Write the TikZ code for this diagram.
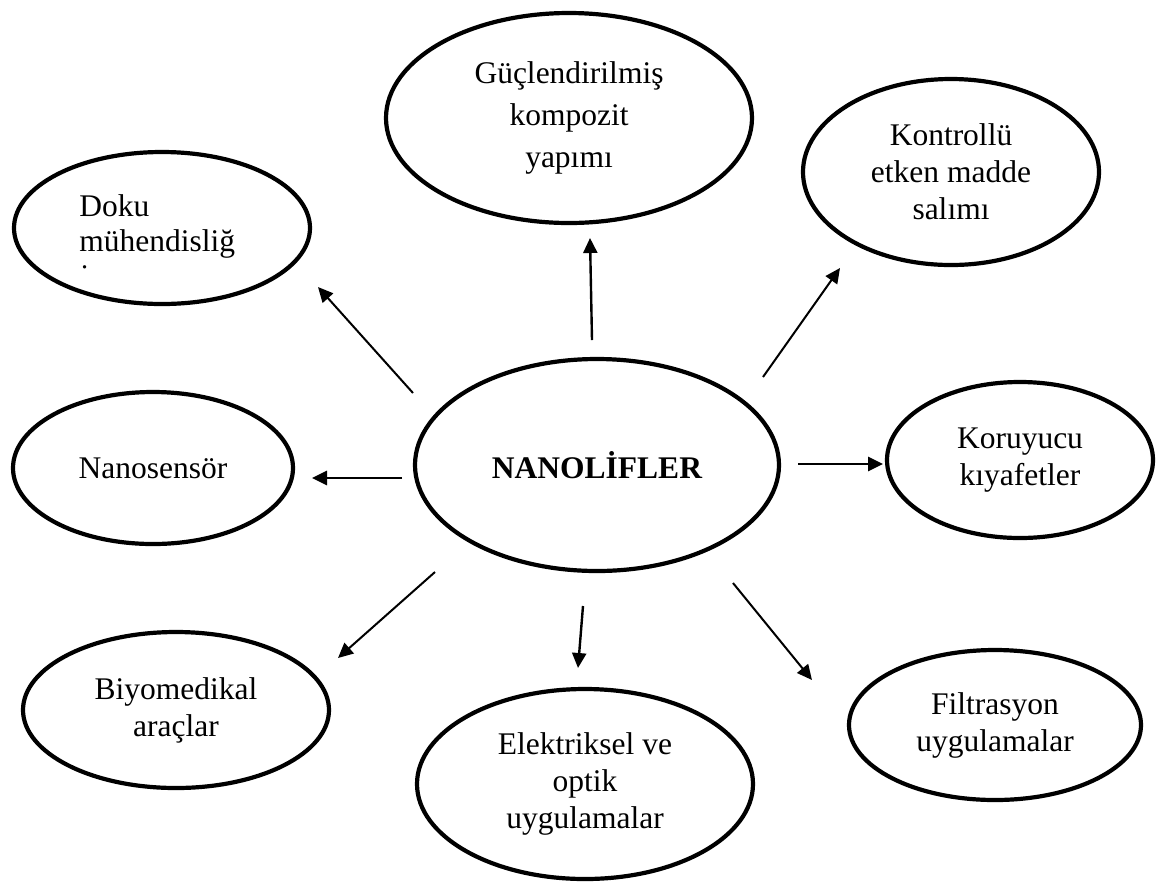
\documentclass[tikz,border=0pt]{standalone}
\usepackage{fontspec}
\setmainfont{Liberation Serif}
\usetikzlibrary{shapes.geometric, arrows.meta}
\tikzset{
  bubble/.style = {
    ellipse, draw, line width=2.1pt, inner sep=0pt, align=center,
    font=\fontsize{15.75}{18.5}\selectfont
  },
  spoke/.style = {
    line width=1pt, -{Triangle[length=7.5pt, width=7pt]}
  }
}

\begin{document}
\begin{tikzpicture}[x=.5pt, y=-.5pt]
    \useasboundingbox (0,0) rectangle (1163,891);
    % ortadaki balon
    \node[bubble, minimum width=182pt, minimum height=106pt,
      font=\bfseries\fontsize{15.75}{18.5}\selectfont] (nano) at (597,465) {NANOLİFLER};
    % çevredeki balonlar
    \node[bubble, minimum width=183pt, minimum height=105pt,
      font=\fontsize{15.75}{21}\selectfont] (guc) at (569,118) {Güçlendirilmiş\\kompozit\\yapımı};
    \node[bubble, minimum width=148pt, minimum height=93pt] (kontrol) at (951,172) {Kontrollü\\etken madde\\salımı};
    \node[bubble, minimum width=148pt, minimum height=76pt] (doku) at (162,228) {};
    \node[font=\fontsize{15.75}{17.5}\selectfont, align=left, inner sep=0pt, anchor=north west]
      (dokutext) at (79,194) {Doku\\mühendisliğ\\˙};
    \node[bubble, minimum width=140pt, minimum height=76pt] (sensor) at (153,468) {Nanosensör};
    \node[bubble, minimum width=133pt, minimum height=78pt] (koruyucu) at (1020,460) {Koruyucu\\kıyafetler};
    \node[bubble, minimum width=153pt, minimum height=78pt] (biyo) at (176,710) {Biyomedikal\\araçlar};
    \node[bubble, minimum width=168pt, minimum height=95pt] (elektrik) at (585,784) {Elektriksel ve\\optik\\uygulamalar};
    \node[bubble, minimum width=146pt, minimum height=75pt] (filtre) at (995,725) {Filtrasyon\\uygulamalar};
    % okların uçları
    \path
      (592,340) coordinate (G0)  (590,238) coordinate (G1)
      (763,377) coordinate (K0)  (840,268) coordinate (K1)
      (413,393) coordinate (D0)  (318,287) coordinate (D1)
      (402,478) coordinate (N0)  (312,478) coordinate (N1)
      (798,464) coordinate (R0)  (883,464) coordinate (R1)
      (435,572) coordinate (B0)  (338,658) coordinate (B1)
      (583,606) coordinate (E0)  (578,668) coordinate (E1)
      (733,583) coordinate (F0)  (812,680) coordinate (F1)
    ;
    % oklar
    \path
      (G0) edge[spoke, line width=1.2pt] (G1)
      (K0) edge[spoke] (K1)
      (D0) edge[spoke] (D1)
      (N0) edge[spoke, line width=1.4pt] (N1)
      (R0) edge[spoke, line width=1.4pt] (R1)
      (B0) edge[spoke] (B1)
      (E0) edge[spoke, line width=1.2pt] (E1)
      (F0) edge[spoke] (F1)
    ;
\end{tikzpicture}
\end{document}
